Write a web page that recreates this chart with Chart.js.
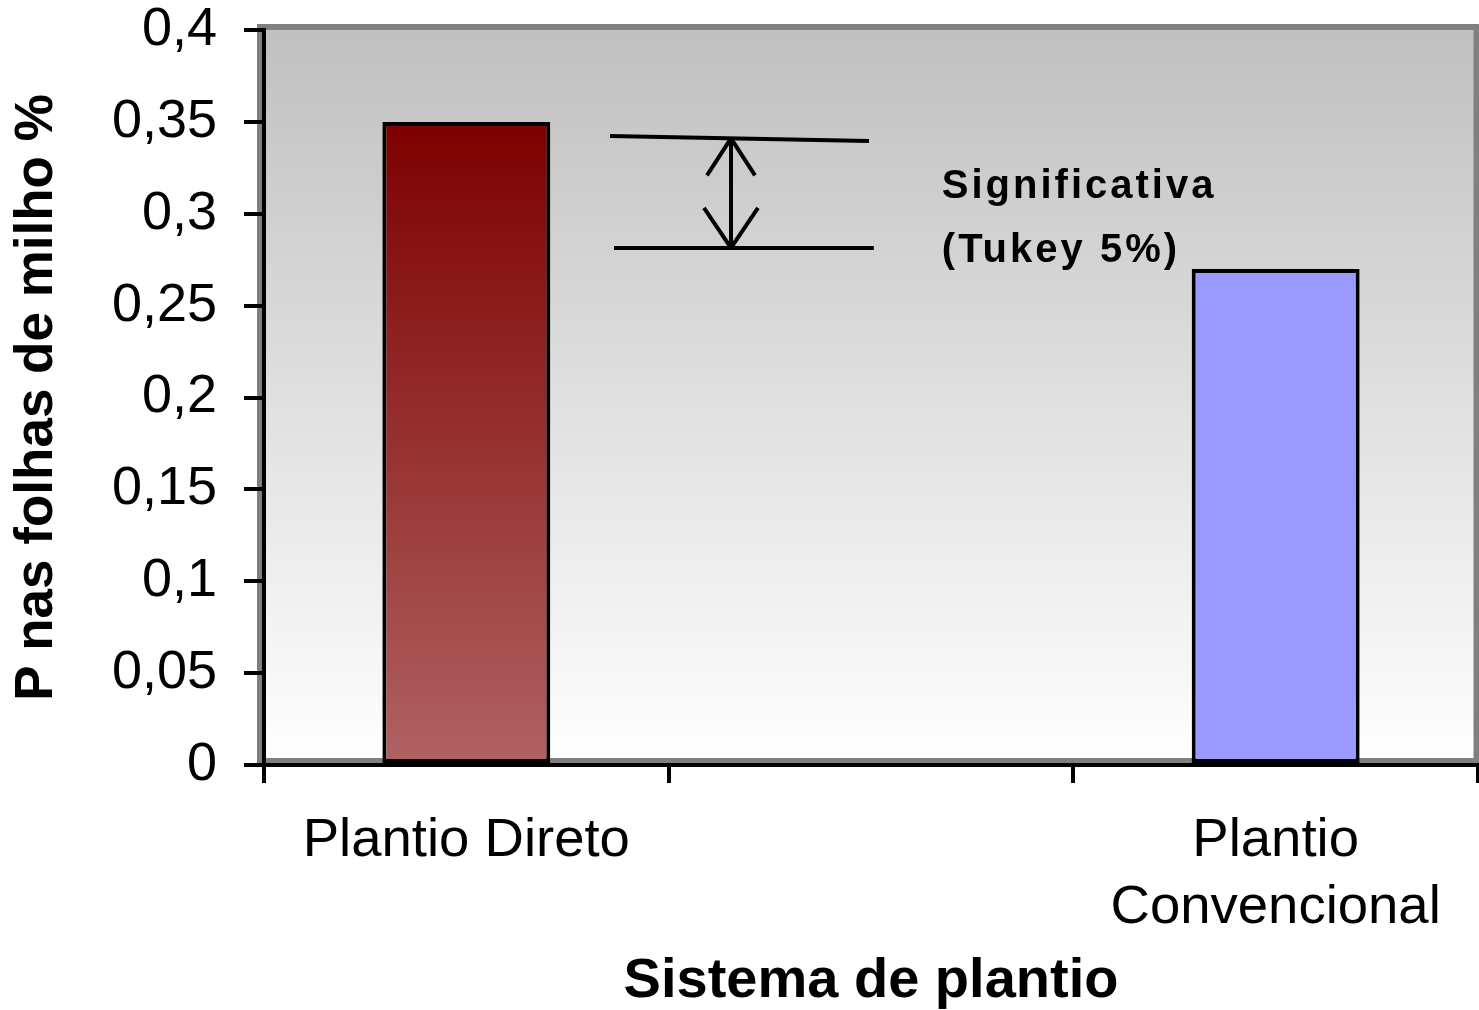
<!DOCTYPE html>
<html>
<head>
<meta charset="utf-8">
<script src="https://cdn.jsdelivr.net/npm/chart.js@4"></script>
<style>
  html, body { margin: 0; padding: 0; background: #ffffff; }
  #wrap { width: 1479px; height: 1010px; }
</style>
</head>
<body>
<div id="wrap"><canvas id="chart" width="1479" height="1010"></canvas></div>
<script>
// P content in maize leaves by tillage system
const categories = ['Plantio Direto', '', ['Plantio', 'Convencional']];
const pValues = [0.35, null, 0.27];
const yTickLabels = ['0', '0,05', '0,1', '0,15', '0,2', '0,25', '0,3', '0,35', '0,4'];
const yMin = 0;
const yMax = 0.4;
const yStep = 0.05;

// Tukey bracket (y in % P, x in category-index units)
const tukeyUpperY = [0.3423, 0.3396];
const tukeyUpperX = [0.355, 0.995];
const tukeyLowerY = [0.2814, 0.2814];
const tukeyLowerX = [0.365, 1.007];
const tukeyArrowX = 0.654;
const tukeyLabel = ['Significativa', '(Tukey 5%)'];
const tukeyLabelX = 1.175;
const tukeyLabelY = [0.3086, 0.2737];

const FONT = '"Liberation Sans", Arial, sans-serif';

const plotFrame = {
  id: 'plotFrame',
  beforeDraw(chart) {
    const { ctx, chartArea: a } = chart;
    ctx.save();
    const g = ctx.createLinearGradient(0, a.top, 0, a.bottom);
    g.addColorStop(0, '#c0c0c0');
    g.addColorStop(1, '#ffffff');
    ctx.fillStyle = g;
    ctx.fillRect(a.left, a.top, a.right - a.left, a.bottom - a.top);
    ctx.strokeStyle = '#808080';
    ctx.lineWidth = 6;
    ctx.strokeRect(a.left - 4, a.top - 3, (a.right - 1.5) - (a.left - 4), (a.bottom - 4) - (a.top - 3));
    ctx.restore();
  }
};

const tukeyBracket = {
  id: 'tukeyBracket',
  afterDatasetsDraw(chart) {
    const { ctx } = chart;
    const x = chart.scales.x, y = chart.scales.y;
    ctx.save();
    ctx.strokeStyle = '#000000';
    ctx.lineWidth = 4;
    ctx.lineCap = 'butt';
    const seg = (x1, y1, x2, y2) => {
      ctx.beginPath(); ctx.moveTo(x1, y1); ctx.lineTo(x2, y2); ctx.stroke();
    };
    seg(x.getPixelForValue(tukeyUpperX[0]), y.getPixelForValue(tukeyUpperY[0]),
        x.getPixelForValue(tukeyUpperX[1]), y.getPixelForValue(tukeyUpperY[1]));
    seg(x.getPixelForValue(tukeyLowerX[0]), y.getPixelForValue(tukeyLowerY[0]),
        x.getPixelForValue(tukeyLowerX[1]), y.getPixelForValue(tukeyLowerY[1]));
    // double-headed arrow between the two levels
    const ax = x.getPixelForValue(tukeyArrowX);
    const t = ((tukeyArrowX - tukeyUpperX[0]) / (tukeyUpperX[1] - tukeyUpperX[0]));
    const top = y.getPixelForValue(tukeyUpperY[0] + t * (tukeyUpperY[1] - tukeyUpperY[0]));
    const bot = y.getPixelForValue(tukeyLowerY[0]);
    seg(ax, top, ax, bot);
    seg(ax, top, ax - 24, top + 37);
    seg(ax, top, ax + 24, top + 37);
    seg(ax, bot, ax - 27, bot - 40);
    seg(ax, bot, ax + 27, bot - 40);
    // label
    ctx.fillStyle = '#000000';
    ctx.font = 'bold 40px ' + FONT;
    ctx.textAlign = 'left';
    ctx.textBaseline = 'alphabetic';
    if ('letterSpacing' in ctx) ctx.letterSpacing = '3px';
    const lx = x.getPixelForValue(tukeyLabelX);
    tukeyLabel.forEach((s, i) => ctx.fillText(s, lx, y.getPixelForValue(tukeyLabelY[i])));
    ctx.restore();
  }
};

function barFill(context) {
  const chart = context.chart;
  if (context.dataIndex === 0) {
    const ys = chart.scales.y;
    if (!chart.chartArea || !ys) return '#960f0f';
    const g = chart.ctx.createLinearGradient(0, ys.getPixelForValue(pValues[0]), 0, ys.getPixelForValue(0));
    g.addColorStop(0, '#7d0000');
    g.addColorStop(1, '#b06262');
    return g;
  }
  return '#9999ff';
}

new Chart(document.getElementById('chart'), {
  type: 'bar',
  data: {
    labels: categories,
    datasets: [{
      data: pValues,
      backgroundColor: barFill,
      borderColor: '#000000',
      borderWidth: 4,
      borderSkipped: false,
      barPercentage: 0.415,
      categoryPercentage: 1.0
    }]
  },
  options: {
    responsive: false,
    devicePixelRatio: 1,
    animation: false,
    layout: { padding: { top: 30, right: 1, left: 0, bottom: 0 } },
    plugins: { legend: { display: false }, tooltip: { enabled: false } },
    scales: {
      x: {
        offset: true,
        grid: { offset: true, drawOnChartArea: false, drawTicks: true, tickLength: 18, color: '#000000', lineWidth: 4 },
        border: { display: true, color: '#000000', width: 4 },
        ticks: {
          color: '#000000',
          padding: 24,
          maxRotation: 0,
          autoSkip: false,
          font: { family: FONT, size: 54.5, lineHeight: 1.24 }
        },
        title: {
          display: true,
          text: 'Sistema de plantio',
          color: '#000000',
          font: { family: FONT, size: 56, weight: 'bold', lineHeight: 1 },
          padding: { top: 0, bottom: 0 }
        },
        afterFit(scale) { scale.height = 245; }
      },
      y: {
        min: yMin,
        max: yMax,
        grid: { drawOnChartArea: false, drawTicks: true, tickLength: 20, color: '#000000', lineWidth: 4 },
        border: { display: true, color: '#000000', width: 4 },
        ticks: {
          stepSize: yStep,
          color: '#000000',
          padding: 27,
          font: { family: FONT, size: 54 },
          callback: (v, i) => yTickLabels[i]
        },
        title: {
          display: true,
          text: 'P nas folhas de milho %',
          color: '#000000',
          font: { family: FONT, size: 53, weight: 'bold', lineHeight: 1 },
          padding: { top: 11, bottom: 0 }
        },
        afterFit(scale) {
          scale.width = 264;
          scale.paddingTop = 0;
          scale.paddingBottom = 0;
        }
      }
    }
  },
  plugins: [plotFrame, tukeyBracket]
});
</script>
</body>
</html>
